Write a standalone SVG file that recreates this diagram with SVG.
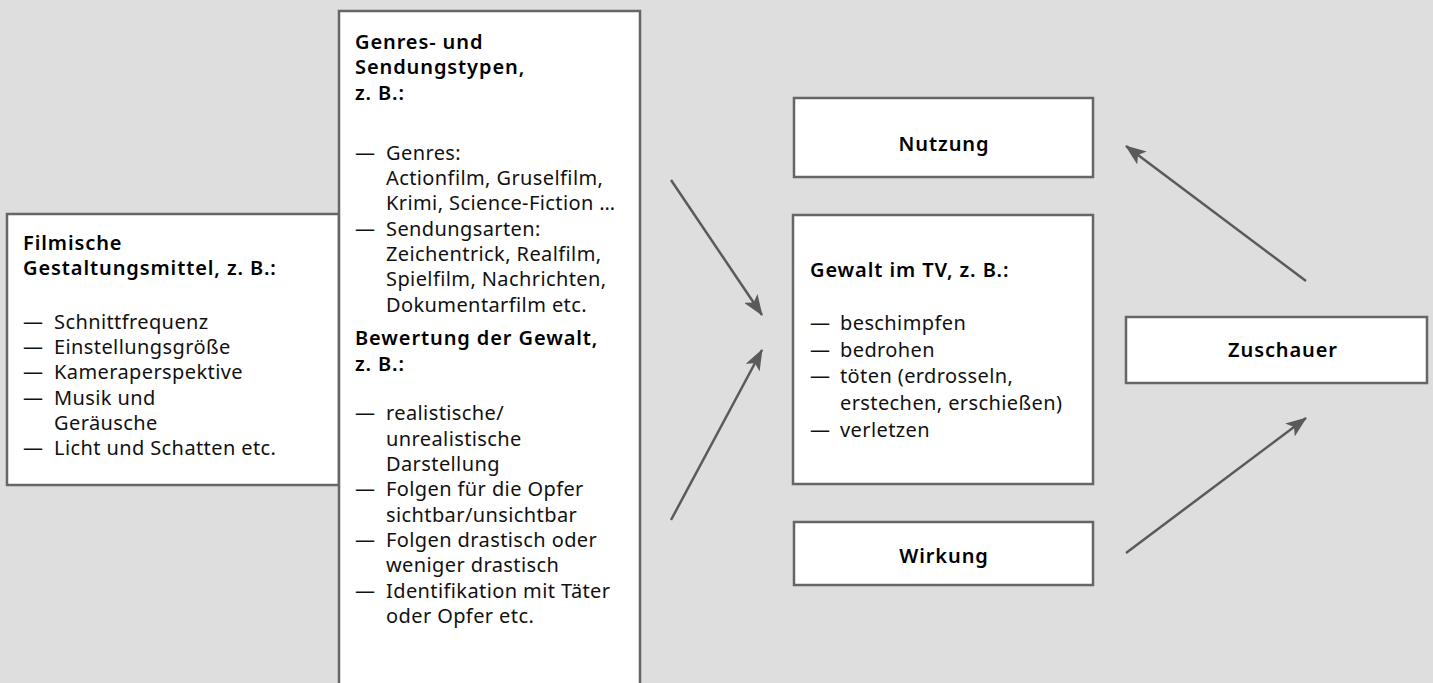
<svg xmlns="http://www.w3.org/2000/svg" width="1433" height="683" viewBox="0 0 1433 683">
<defs>
<style>
.box{fill:#ffffff;stroke:#666666;stroke-width:2.5}
.t{font-family:"Noto Sans","Open Sans","Liberation Sans",sans-serif;font-size:20px;letter-spacing:0.4px;fill:#111111}
.b{font-family:"Noto Sans","Open Sans","Liberation Sans",sans-serif;font-size:20px;letter-spacing:0.9px;font-weight:600;fill:#000000}
.c{text-anchor:middle}
.arr{stroke:#5a5a5a;stroke-width:2.5;fill:none;marker-end:url(#ah)}
</style>
<marker id="ah" markerUnits="userSpaceOnUse" markerWidth="22" markerHeight="16" viewBox="0 0 22 16" refX="20" refY="8" orient="auto">
<path d="M0,0 L21,8 L0,16 L5,8 Z" fill="#5a5a5a"/>
</marker>
</defs>
<rect x="0" y="0" width="1433" height="683" fill="#dedede"/>

<g id="filmische">
<rect class="box" x="7" y="214" width="332" height="271"/>
<text class="b" x="23" y="250">Filmische</text>
<text class="b" x="23" y="275">Gestaltungsmittel, z. B.:</text>
<text class="t" x="23" y="329">— <tspan x="54">Schnittfrequenz</tspan></text>
<text class="t" x="23" y="354">— <tspan x="54">Einstellungsgröße</tspan></text>
<text class="t" x="23" y="379">— <tspan x="54">Kameraperspektive</tspan></text>
<text class="t" x="23" y="405">— <tspan x="54">Musik und</tspan></text>
<text class="t" x="54" y="430">Geräusche</text>
<text class="t" x="23" y="455">— <tspan x="54">Licht und Schatten etc.</tspan></text>
</g>

<g id="genres">
<rect class="box" x="339" y="11" width="301" height="700"/>
<text class="b" x="355" y="49">Genres- und</text>
<text class="b" x="355" y="74">Sendungstypen,</text>
<text class="b" x="355" y="100">z. B.:</text>
<text class="t" x="355" y="160">— <tspan x="386">Genres:</tspan></text>
<text class="t" x="386" y="185">Actionfilm, Gruselfilm,</text>
<text class="t" x="386" y="210">Krimi, Science-Fiction …</text>
<text class="t" x="355" y="236">— <tspan x="386">Sendungsarten:</tspan></text>
<text class="t" x="386" y="261">Zeichentrick, Realfilm,</text>
<text class="t" x="386" y="286">Spielfilm, Nachrichten,</text>
<text class="t" x="386" y="312">Dokumentarfilm etc.</text>
<text class="b" x="355" y="345">Bewertung der Gewalt,</text>
<text class="b" x="355" y="371">z. B.:</text>
<text class="t" x="355" y="420">— <tspan x="386">realistische/</tspan></text>
<text class="t" x="386" y="446">unrealistische</text>
<text class="t" x="386" y="471">Darstellung</text>
<text class="t" x="355" y="496">— <tspan x="386">Folgen für die Opfer</tspan></text>
<text class="t" x="386" y="522">sichtbar/unsichtbar</text>
<text class="t" x="355" y="547">— <tspan x="386">Folgen drastisch oder</tspan></text>
<text class="t" x="386" y="572">weniger drastisch</text>
<text class="t" x="355" y="598">— <tspan x="386">Identifikation mit Täter</tspan></text>
<text class="t" x="386" y="623">oder Opfer etc.</text>
</g>

<g id="nutzung">
<rect class="box" x="794" y="98" width="299" height="79"/>
<text class="b c" x="944" y="151">Nutzung</text>
</g>

<g id="gewalt">
<rect class="box" x="793" y="215" width="300" height="269"/>
<text class="b" x="810" y="277">Gewalt im TV, z. B.:</text>
<text class="t" x="810" y="330">— <tspan x="840">beschimpfen</tspan></text>
<text class="t" x="810" y="357">— <tspan x="840">bedrohen</tspan></text>
<text class="t" x="810" y="383">— <tspan x="840">töten (erdrosseln,</tspan></text>
<text class="t" x="840" y="410">erstechen, erschießen)</text>
<text class="t" x="810" y="437">— <tspan x="840">verletzen</tspan></text>
</g>

<g id="wirkung">
<rect class="box" x="794" y="522" width="299" height="63"/>
<text class="b c" x="944" y="563">Wirkung</text>
</g>

<g id="zuschauer">
<rect class="box" x="1126" y="317" width="301" height="66"/>
<text class="b c" x="1283" y="357">Zuschauer</text>
</g>

<g id="connectors">
<line class="arr" x1="671" y1="180" x2="762" y2="315"/>
<line class="arr" x1="671" y1="520" x2="762" y2="350"/>
<line class="arr" x1="1306" y1="281" x2="1126" y2="146"/>
<line class="arr" x1="1126" y1="553" x2="1306" y2="418"/>
</g>
</svg>
